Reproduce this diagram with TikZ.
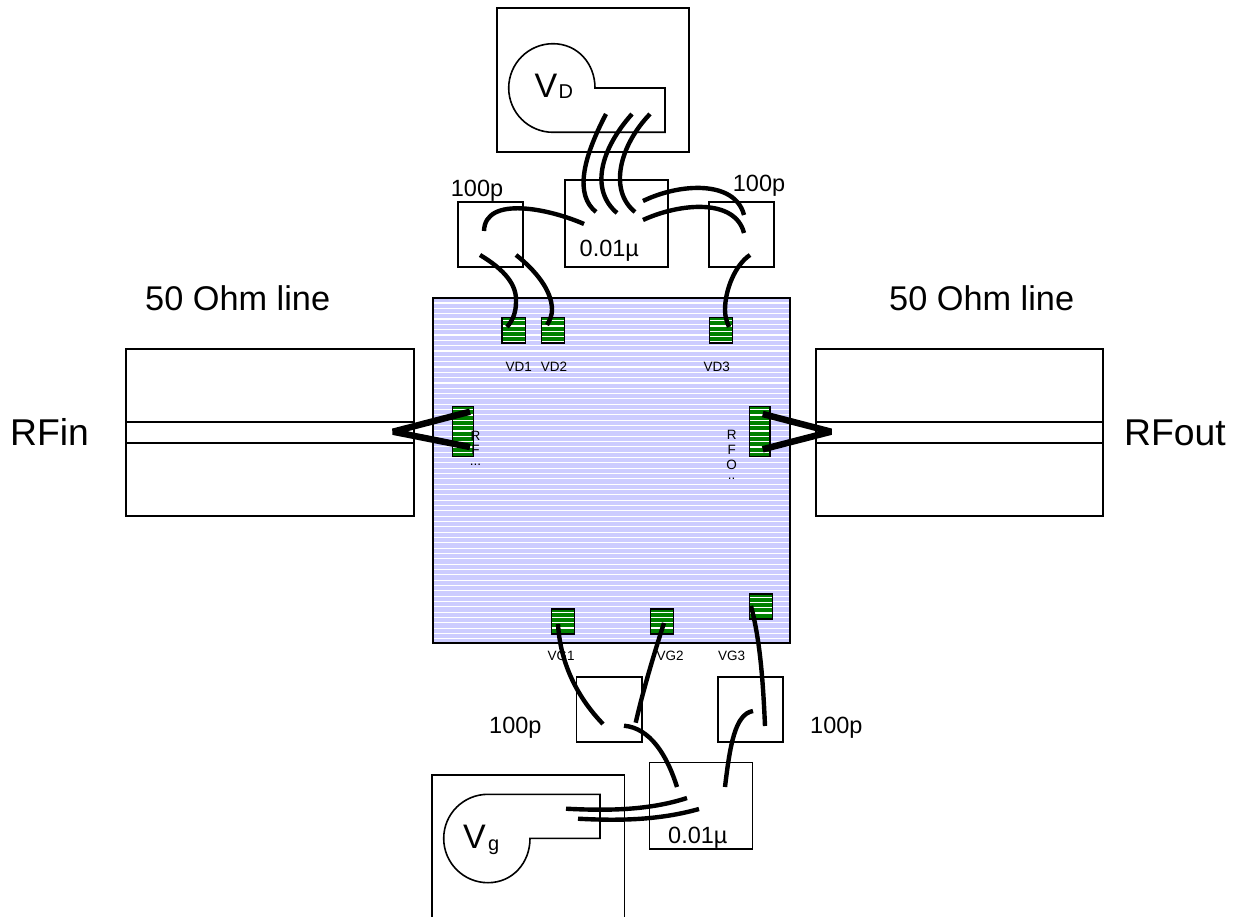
\documentclass[tikz,border=0pt]{standalone}
\usepackage{fontspec}
\setmainfont{Liberation Sans}
\definecolor{chipfill}{HTML}{CCCCFF}
\definecolor{padfill}{HTML}{008000}
\definecolor{edge}{HTML}{000000}
\newcommand{\stripes}[4]{% x1 x2 y1 y2
  \begin{scope}
    \clip (#1,#3) rectangle (#2,#4);
    \pgfmathsetmacro{\second}{#3+5.33}
    \foreach \yy in {#3,\second,...,#4}{\draw[white,line width=1.1pt] (#1,\yy) -- (#2,\yy);}
  \end{scope}}
\newcommand{\padbox}[5]{% name x1 x2 y1 y2
  \fill[padfill] (#2,#4) rectangle (#3,#5);
  \pgfmathsetmacro{\ystart}{#4+3}
  \stripes{#2}{#3}{\ystart}{#5}
  \draw[outline] (#2,#4) rectangle (#3,#5);
  \coordinate (#1) at ({(#2+#3)/2},{(#4+#5)/2});}
\tikzset{
  outline/.style={draw=edge,line width=1.4pt,line join=miter},
  thinbox/.style={draw=edge,line width=1.6pt},
  bond/.style={draw=black,line width=4.4pt},
  bondthick/.style={draw=black,line width=6.5pt,line join=bevel},
  big/.style={anchor=base west,inner sep=0pt,font=\fontsize{34.3}{34}\selectfont},
  huge/.style={anchor=base west,inner sep=0pt,font=\fontsize{37.3}{37}\selectfont},
  mid/.style={anchor=base west,inner sep=0pt,font=\fontsize{23.5}{24}\selectfont},
  tiny/.style={anchor=base,inner sep=0pt,font=\fontsize{13.5}{13}\selectfont},
  stack/.style={anchor=north,inner sep=0pt,align=center,font=\fontsize{13.5}{15}\selectfont},
  vee/.style={anchor=base west,inner sep=0pt,font=\fontsize{34}{34}\selectfont},
  subs/.style={anchor=base west,inner sep=0pt,font=\fontsize{20}{20}\selectfont},
}
\begin{document}
\begin{tikzpicture}[x=1pt,y=-1pt]
\useasboundingbox (0,0) rectangle (1242,917);
\fill[white] (0,0) rectangle (1242,917);
% chip
\fill[chipfill] (433,298) rectangle (790,643);
\stripes{433}{790}{303}{643}
\draw[outline] (433,298) rectangle (790,643);
% 50 ohm lines
\draw[thinbox] (126,349) rectangle (414,516);
\draw[thinbox] (126,422) rectangle (414,443);
\draw[thinbox] (816,349) rectangle (1103,516);
\draw[thinbox] (816,422) rectangle (1103,443);
% drain supply
\draw[thinbox] (497,8) rectangle (689,152);
\draw[thinbox] (595,88) -- (665,88) -- (665,132.3) -- (553,132.3)
  .. controls (528.5,132.3) and (508.7,112.5) .. (508.7,88)
  .. controls (508.7,63.5) and (528.5,43.7) .. (553,43.7)
  .. controls (577.5,43.7) and (595,63.5) .. (595,88) -- cycle;
% gate supply
\draw[thinbox] (432,917) -- (432,774.7) -- (624.3,774.7) -- (624.3,917);
\draw[thinbox] (488,794.3) -- (600,794.3) -- (600,838.4) -- (530,838.4)
  .. controls (530,862.9) and (512.5,882.7) .. (488,882.7)
  .. controls (463.5,882.7) and (443.7,862.9) .. (443.7,838.4)
  .. controls (443.7,813.9) and (463.5,794.3) .. (488,794.3) -- cycle;
% capacitors
\draw[thinbox] (565,180) rectangle (668,267);
\draw[thinbox] (458,202) rectangle (523,267);
\draw[thinbox] (709,202) rectangle (774,267);
\draw[thinbox] (576.3,676.7) rectangle (642,741.7);
\draw[thinbox] (717.7,676.7) rectangle (783,741.7);
\draw[thinbox] (649.3,762.3) rectangle (752.3,849);
% pads
\padbox{vdonepad}{502}{525.3}{317.7}{343}
\padbox{vdtwopad}{541.7}{564.3}{317.7}{343}
\padbox{vdthreepad}{709.7}{732.7}{317.7}{343}
\padbox{rfinpad}{452.7}{473.3}{406.7}{456.7}
\padbox{rfoutpad}{749.3}{770}{406.7}{456.7}
\padbox{vgonepad}{551.7}{574.3}{609}{634}
\padbox{vgtwopad}{650.7}{673.3}{609}{634}
\padbox{vgthreepad}{749.7}{772.3}{594}{619}
% small labels
\node[tiny] (vd1) at (518.7,371.5) {VD1};
\node[tiny] (vd2) at (554,371.5) {VD2};
\node[tiny] (vd3) at (716.7,371.5) {VD3};
\node[tiny] (vg1) at (561,660.5) {VG1};
\node[tiny] (vg2) at (670,660.5) {VG2};
\node[tiny] (vg3) at (731.7,660.5) {VG3};
\node[stack] (rfilabel) at (475.5,431.5) {R\\[-1pt]F\\[-4pt]...};
\node[stack] (rfolabel) at (731.7,430.5) {R\\F\\O\\[-5pt]..};
% big labels
\node[big] (l50a) at (145,311) {50 Ohm line};
\node[big] (l50b) at (889,311) {50 Ohm line};
\node[huge] (rfin) at (10,445) {RFin};
\node[huge] (rfout) at (1124,445) {RFout};
\node[vee] (vdv) at (534.5,98) {V};
\node[subs] (vdd) at (558.5,99) {D};
\node[vee] (vgv) at (463,848) {V};
\node[subs] (vgg) at (488,850) {g};
\node[mid] (c1) at (450.7,196.7) {100p};
\node[mid] (c2) at (732.7,192) {100p};
\node[mid] (c3) at (579.5,257) {0.01µ};
\node[mid] (c4) at (489,733) {100p};
\node[mid] (c5) at (810,733) {100p};
\node[mid] (c6) at (668,843) {0.01µ};
% drain bond wires
\draw[bond] (606,114) .. controls (582,160) and (575,195) .. (596,212);
\draw[bond] (632,114) .. controls (600,150) and (590,190) .. (617,213);
\draw[bond] (650,114) .. controls (620,145) and (608,190) .. (635,212);
\draw[bond] (584,224) .. controls (550,209) and (485,195) .. (484,231);
\draw[bond] (643,201) .. controls (680,183) and (735,180) .. (744,215);
\draw[bond] (643,220) .. controls (680,203) and (735,198) .. (744,233);
\draw[bond] (480,255) .. controls (505,270) and (517,285) .. (516,302) .. controls (516,312) and (513,320) .. (507,327);
\draw[bond] (516,255) .. controls (535,270) and (552,290) .. (552,310) .. controls (552,315) and (550,320) .. (547,325);
\draw[bond] (750,255) .. controls (735,265) and (725,290) .. (725,310) .. controls (725,317) and (727,322) .. (729,327);
% RF bond wires
\draw[bondthick] (470,411.7) -- (393,431.7) -- (470,447);
\draw[bondthick] (762.7,414) -- (831,431.7) -- (762.7,449.3);
% gate bond wires
\draw[bond] (558,624) .. controls (560,660) and (575,695) .. (603,724);
\draw[bond] (664,623) .. controls (652,660) and (642,695) .. (635.7,722.7);
\draw[bond] (765,726) .. controls (763,680) and (760,640) .. (751,606);
\draw[bond] (753,711) .. controls (735,714) and (730,745) .. (725,787);
\draw[bond] (624,725.7) .. controls (650,728) and (667,755) .. (677,787);
\draw[bond] (566,808.7) .. controls (610,811) and (650,810) .. (687,798);
\draw[bond] (578,818.7) .. controls (620,821) and (660,820) .. (699,809);
\end{tikzpicture}
\end{document}
